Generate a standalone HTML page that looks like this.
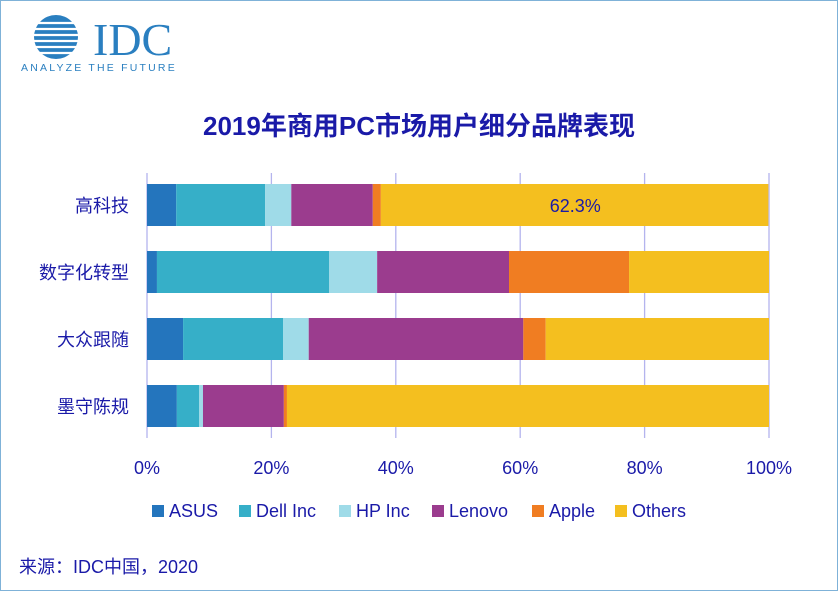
<!DOCTYPE html>
<html><head><meta charset="utf-8"><style>
body{margin:0;background:#fff}
#wrap{position:relative;width:836px;height:589px;border:1px solid #7fb2d8;overflow:hidden;font-family:"Liberation Sans","Noto Sans CJK SC",sans-serif}
</style></head><body>
<div id="wrap">
<svg width="836" height="589" id="svg">
<g>
<circle cx="55" cy="36" r="22" fill="#2a7fc0"/>
<g stroke="#fff" stroke-width="2.2"><line x1="30" y1="22" x2="80" y2="22"/><line x1="30" y1="28" x2="80" y2="28"/><line x1="30" y1="34" x2="80" y2="34"/><line x1="30" y1="40" x2="80" y2="40"/><line x1="30" y1="46" x2="80" y2="46"/><line x1="30" y1="52" x2="80" y2="52"/></g>
<text x="92" y="54" font-size="46" fill="#2a7fc0" font-family="Liberation Serif, serif">IDC</text>
<text x="20" y="70" font-size="10.5" fill="#2a7fc0" letter-spacing="2.2">ANALYZE THE FUTURE</text>
</g>
<text x="418" y="134" text-anchor="middle" font-size="26" font-weight="bold" fill="#1a1aa8">2019年商用PC市场用户细分品牌表现</text>
<g id="grid"></g><g id="bars"></g><g id="labels"></g><g id="legend"></g>
<text x="18" y="572" font-size="18" fill="#1a1aa8">来源：IDC中国，2020</text>
</svg></div>
<script>
const categories=["高科技","数字化转型","大众跟随","墨守陈规"];
const seriesNames=["ASUS","Dell Inc","HP Inc","Lenovo","Apple","Others"];
const asus=[4.7,1.6,5.8,4.8];
const dell=[14.3,27.7,16.1,3.6];
const hp=[4.2,7.7,4.1,0.6];
const lenovo=[13.1,21.2,34.5,13.0];
const apple=[1.3,19.3,3.6,0.5];
const others=[62.3,22.5,35.9,77.5];
const ticks=[0,20,40,60,80,100];
const colors=["#2475bd","#36afc8","#9fdbe8","#9b3c8e","#f07d22","#f4bf1f"];
const series=[asus,dell,hp,lenovo,apple,others];
const NS="http://www.w3.org/2000/svg";
const x0=146,x1=768;
const xs=v=>x0+(x1-x0)*v/100;
const ys=i=>183+i*67;
const bh=42;
function mk(tag,attrs,parent){const e=document.createElementNS(NS,tag);for(const k in attrs)e.setAttribute(k,attrs[k]);parent.appendChild(e);return e;}
const grid=document.getElementById('grid'),bars=document.getElementById('bars'),labels=document.getElementById('labels'),legend=document.getElementById('legend');
ticks.forEach(t=>{
 const l=mk('line',{x1:xs(t),x2:xs(t),y1:172,y2:437,stroke:'#b4b4ee','stroke-width':1.3},grid);
 
 
 const tx=mk('text',{x:xs(t),y:473,'text-anchor':'middle','font-size':18,fill:'#1a1aa8'},labels);
 tx.textContent=t+'%';
 
 
});
categories.forEach((c,i)=>{
 const tx=mk('text',{x:128,y:ys(i)+bh/2+7,'text-anchor':'end','font-size':18,fill:'#1a1aa8'},labels);
 tx.textContent=c;
 
 
 let acc=0;
 series.forEach((s,j)=>{
  const r=mk('rect',{x:xs(acc),y:ys(i),width:xs(acc+s[i])-xs(acc),height:bh,fill:colors[j]},bars);
  
  
  acc+=s[i];
 });
});
const v=mk('text',{x:xs(100-others[0]/2),y:ys(0)+bh/2+7,'text-anchor':'middle','font-size':18,fill:'#1a1aa8'},labels);
v.textContent=others[0]+'%';


const lx=[151,238,338,431,531,614];
seriesNames.forEach((n,j)=>{
 const r=mk('rect',{x:lx[j],y:504,width:12,height:12,fill:colors[j]},legend);
 
 
 const t=mk('text',{x:lx[j]+17,y:516,'font-size':18,fill:'#1a1aa8'},legend);
 t.textContent=n;
 
 
});
</script>
</body></html>
